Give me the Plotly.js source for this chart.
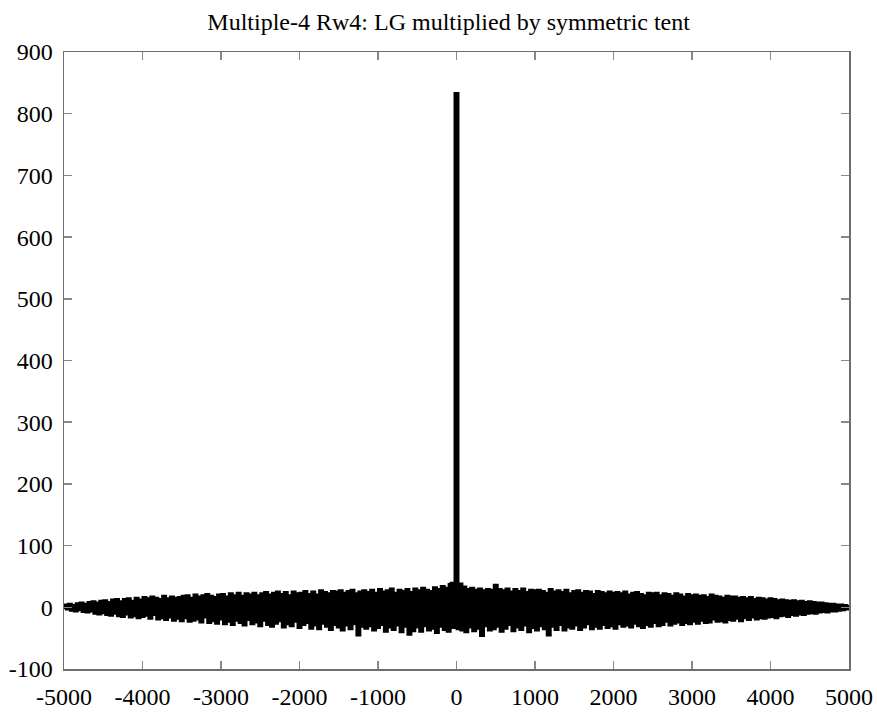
<!DOCTYPE html>
<html>
<head>
<meta charset="utf-8">
<script src="https://cdn.plot.ly/plotly-3.0.1.min.js"></script>
<style>html,body{margin:0;padding:0;background:#fff;}#chart{width:877px;height:713px;}</style>
</head>
<body>
<div id="chart"></div>
<script>
// Sample spacing: x starts at -5000, step 25 (401 samples to +5000)
const xStart = -5000;
const xStep = 25;

// Signal values (left half, spike, right half)
const leftHalf = [
  0, 3, -2, 4, -4, 2, -5, 5, -3, 6, -6, 4, -7, 7, -5, 8, -9, 6, -10, 9,
  -8, 10, -11, 7, -12, 11, -9, 12, -13, 8, -14, 12, -10, 13, -15, 9, -13, 14, -16, 11,
  -14, 15, -12, 13, -17, 16, -11, 14, -18, 12, -16, 17, -19, 13, -15, 16, -20, 14, -17, 15,
  -21, 17, -16, 18, -22, 14, -20, 19, -18, 16, -23, 18, -15, 20, -24, 17, -21, 15, -25, 19,
  -18, 20, -26, 16, -22, 21, -27, 18, -20, 22, -24, 17, -28, 21, -19, 19, -26, 22, -23, 18,
  -29, 21, -20, 23, -27, 19, -30, 22, -25, 24, -21, 20, -31, 23, -26, 18, -29, 24, -22, 21,
  -32, 22, -27, 25, -24, 20, -33, 24, -28, 19, -34, 26, -25, 23, -30, 21, -35, 25, -27, 24,
  -31, 26, -36, 22, -28, 25, -34, 27, -26, 21, -44, 24, -30, 26, -33, 23, -29, 27, -36, 22,
  -32, 28, -27, 24, -38, 26, -31, 29, -35, 22, -28, 27, -39, 25, -30, 28, -43, 23, -37, 29,
  -31, 26, -38, 30, -29, 27, -36, 25, -33, 31, -40, 28, -30, 33, -35, 30, -38, 36, 38, -32
];
const centerPeak = [832];
const rightHalf = [
  -34, 37, -36, 32, -39, 28, -31, 30, -37, 27, -33, 29, -45, 26, -29, 28, -36, 27, -34, 35,
  -30, 28, -38, 26, -33, 29, -27, 24, -37, 28, -31, 25, -35, 29, -28, 23, -39, 27, -32, 26,
  -36, 27, -29, 25, -34, 22, -44, 28, -30, 24, -35, 26, -27, 23, -36, 27, -31, 21, -33, 25,
  -28, 26, -35, 22, -31, 25, -26, 24, -34, 20, -30, 25, -33, 23, -27, 21, -32, 24, -29, 22,
  -33, 23, -26, 21, -30, 24, -28, 19, -31, 22, -25, 23, -29, 20, -32, 18, -27, 22, -30, 21,
  -24, 22, -29, 18, -27, 21, -22, 20, -28, 17, -25, 21, -23, 19, -27, 16, -24, 20, -26, 18,
  -22, 19, -25, 17, -20, 18, -24, 15, -23, 19, -18, 17, -22, 16, -21, 14, -23, 17, -19, 16,
  -20, 16, -17, 14, -21, 15, -16, 13, -19, 15, -15, 12, -18, 14, -16, 13, -17, 11, -15, 13,
  -14, 12, -16, 10, -13, 11, -12, 10, -14, 9, -11, 10, -12, 8, -10, 9, -11, 7, -9, 8,
  -8, 7, -9, 6, -7, 6, -6, 5, -7, 4, -5, 4, -5, 3, -4, 3, -3, 2, -2, 1
];

const xTicks = [-5000, -4000, -3000, -2000, -1000, 0, 1000, 2000, 3000, 4000, 5000];
const yTicks = [-100, 0, 100, 200, 300, 400, 500, 600, 700, 800, 900];
const titleText = 'Multiple-4 Rw4: LG multiplied by symmetric tent';

const yValues = leftHalf.concat(centerPeak, rightHalf);

const fontFamily = 'Liberation Serif';

function makeAxis(range, ticks, standoff) {
  return {
    range: range,
    tickmode: 'array',
    tickvals: ticks,
    ticktext: ticks.map(String),
    showgrid: false,
    zeroline: false,
    showline: true,
    linecolor: '#6e6e6e',
    linewidth: 1.5,
    mirror: 'ticks',
    ticks: 'inside',
    ticklen: 8,
    tickwidth: 1.5,
    tickcolor: '#888',
    ticklabelstandoff: standoff,
    automargin: false,
    tickfont: {family: fontFamily, size: 24, color: '#000'}
  };
}

Plotly.newPlot('chart', [{
  type: 'scatter',
  mode: 'lines',
  y: yValues,
  x0: xStart,
  dx: xStep,
  line: {color: '#000', width: 4, shape: 'hvh'},
  hoverinfo: 'skip'
}], {
  width: 877,
  height: 713,
  paper_bgcolor: '#fff',
  plot_bgcolor: '#fff',
  margin: {l: 64, r: 28, t: 52, b: 44},
  showlegend: false,
  font: {family: fontFamily, size: 24, color: '#000'},
  title: {
    text: titleText,
    font: {family: fontFamily, size: 24, color: '#000'},
    xref: 'paper', x: 0.49,
    yref: 'container', y: 1 - 22/713, yanchor: 'middle'
  },
  xaxis: makeAxis([-5000, 5000], xTicks, 6),
  yaxis: makeAxis([-100, 900], yTicks, 5)
}, {staticPlot: true});
</script>
</body>
</html>
